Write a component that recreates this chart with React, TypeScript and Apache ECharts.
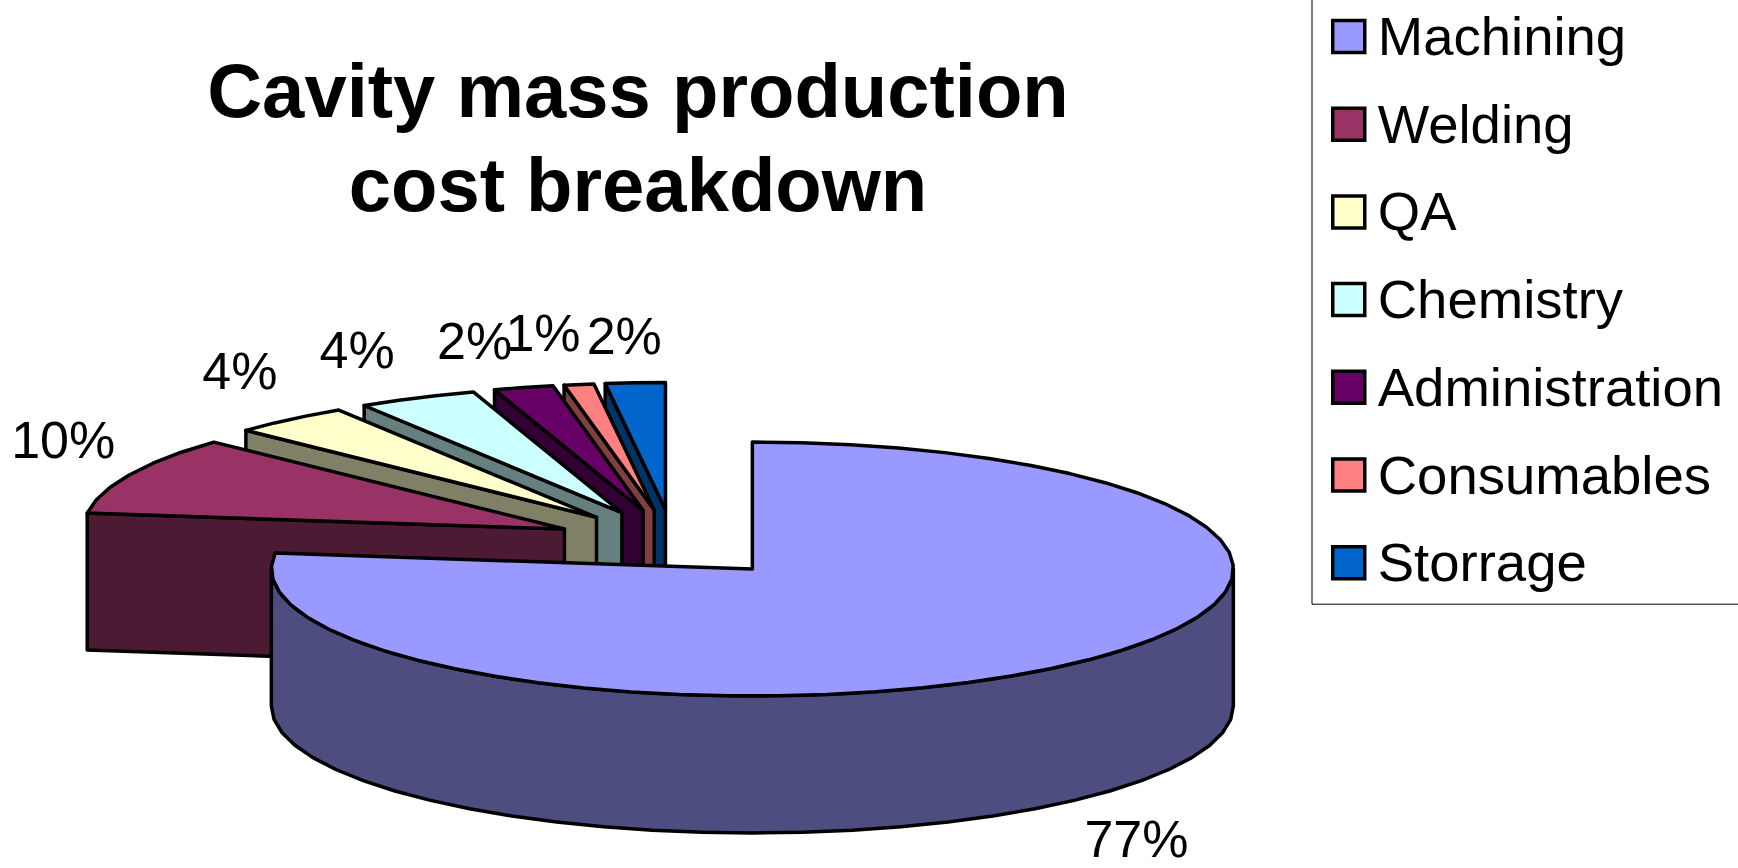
import React, { useEffect, useRef } from "react";
import * as echarts from "echarts";

const categories = ["Machining", "Welding", "QA", "Chemistry", "Administration", "Consumables", "Storrage"];
const shares = [77, 10, 4, 4, 2, 1, 2];
const faceColors = ["#9999FF", "#993366", "#FFFFCC", "#CCFFFF", "#660066", "#FF8080", "#0066CC"];
const sideColors = ["#4D4D80", "#4D1A33", "#808066", "#668080", "#330033", "#804040", "#003366"];
const titleLines = ["Cavity mass production", "cost breakdown"];

// Projection of the tilted disc, in pixels
const FONT = '"Liberation Sans", Arial, sans-serif';
const CX = 673;
const CY = 543.5;
const RX = 481;
const RY = 127;
const DEPTH = 137;
const EXPLODE_X = 120;
const EXPLODE_Y = 34;
const ARC_STEP = 6;
const LINE = 3.5;

// Percent label nudges away from each slice's outer rim midpoint
const labelNudges: [number, number][] = [
  [66, 38],
  [-66, -35],
  [-50, -48],
  [-60, -48],
  [-49, -47],
  [-36, -51],
  [-11, -47],
];

const total = shares.reduce((a, b) => a + b, 0);
const rad = (deg: number) => (deg * Math.PI) / 180;

// Clockwise from twelve o'clock
const rim = (ox: number, oy: number, deg: number): [number, number] => [
  ox + RX * Math.sin(rad(deg)),
  oy - RY * Math.cos(rad(deg)),
];

const arcPoints = (ox: number, oy: number, from: number, to: number) => {
  const pts: [number, number][] = [];
  const n = Math.max(1, Math.ceil((to - from) / ARC_STEP));
  for (let k = 0; k <= n; k++) pts.push(rim(ox, oy, from + ((to - from) * k) / n));
  return pts;
};

const drop = (pts: [number, number][]) => pts.map(([x, y]) => [x, y + DEPTH] as [number, number]);

const makeRenderItem = (index: number) => (_params: any, api: any) => {
  const value = api.value(0) as number;
  const before = api.value(1) as number;
  const start = (before / total) * 360;
  const end = ((before + value) / total) * 360;
  const mid = (start + end) / 2;
  const ox = CX + EXPLODE_X * Math.sin(rad(mid));
  const oy = CY - EXPLODE_Y * Math.cos(rad(mid));
  const apex: [number, number] = [ox, oy];
  const stroke = { stroke: "#000", lineWidth: LINE, lineJoin: "round" };
  const children: any[] = [];
  const side = (pts: [number, number][]) =>
    children.push({ type: "polygon", shape: { points: pts }, style: { fill: sideColors[index], ...stroke } });

  if (Math.sin(rad(start)) < -1e-6) {
    const outer = rim(ox, oy, start);
    side([apex, outer, ...drop([outer]), ...drop([apex])]);
  }
  if (Math.sin(rad(end)) > 1e-6) {
    const outer = rim(ox, oy, end);
    side([apex, outer, ...drop([outer]), ...drop([apex])]);
  }
  const frontFrom = Math.max(start, 90);
  const frontTo = Math.min(end, 270);
  if (frontTo > frontFrom) {
    const arc = arcPoints(ox, oy, frontFrom, frontTo);
    side([...arc, ...drop(arc).reverse()]);
  }
  children.push({
    type: "polygon",
    shape: { points: [apex, ...arcPoints(ox, oy, start, end)] },
    style: { fill: faceColors[index], ...stroke },
  });

  const anchor = rim(ox, oy, mid);
  const nudge = labelNudges[index];
  const below = frontTo > frontFrom ? DEPTH : 0;
  children.push({
    type: "text",
    x: anchor[0] + nudge[0],
    y: anchor[1] + below + nudge[1],
    style: {
      text: `${value}%`,
      fill: "#000",
      font: `52px ${FONT}`,
      textAlign: "center",
      textVerticalAlign: "middle",
    },
  });
  return { type: "group", children };
};

export default function App() {
  const ref = useRef<HTMLDivElement>(null);

  useEffect(() => {
    const chart = echarts.init(ref.current!, null, { renderer: "svg" });
    let running = 0;
    const series = categories.map((name, i) => {
      const before = running;
      running += shares[i];
      return {
        type: "custom",
        name,
        coordinateSystem: "none",
        // The large slice sits on top; exploded slices overlap from the back row forward
        z: i === 0 ? 20 : 10 - i,
        data: [[shares[i], before]],
        itemStyle: { color: faceColors[i] },
        renderItem: makeRenderItem(i),
        silent: true,
      };
    });
    chart.setOption({
      animation: false,
      backgroundColor: "#fff",
      title: {
        text: titleLines.join("\n"),
        left: 633,
        top: 38,
        textAlign: "center",
        textStyle: { fontFamily: FONT, fontWeight: "bold", fontSize: 76, lineHeight: 94, color: "#000" },
      },
      legend: {
        data: categories,
        orient: "vertical",
        left: 1312,
        top: -36,
        width: 425,
        padding: [36, 16, 5, 19],
        itemWidth: 32,
        itemHeight: 32,
        itemGap: 14.7,
        icon: "rect",
        borderColor: "#000",
        borderWidth: 1,
        backgroundColor: "#fff",
        itemStyle: { borderColor: "#000", borderWidth: 3.5 },
        selectedMode: false,
        textStyle: { fontFamily: FONT, fontSize: 54.5, lineHeight: 60, color: "#000", padding: [0, 0, 13, 8] },
      },
      series,
    });
    return () => chart.dispose();
  }, []);

  return <div ref={ref} style={{ position: "absolute", left: 0, top: 0, width: 1738, height: 868 }} />;
}
